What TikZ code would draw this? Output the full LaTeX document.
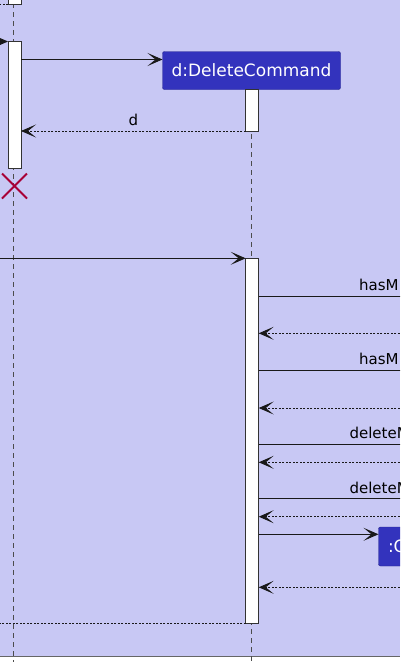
\documentclass[tikz,border=0pt]{standalone}
\usepackage{fontspec}
\setmainfont{DejaVu Sans}
\usepackage{tikz}
\usetikzlibrary{arrows.meta, positioning}

\definecolor{diagbg}{RGB}{200,200,244}
\definecolor{boxfill}{RGB}{51,51,189}
\definecolor{boxline}{RGB}{36,36,140}
\definecolor{destroyred}{RGB}{168,0,54}

\tikzset{
  lifeline/.style={draw=gray!60!black, line width=0.9pt, dash pattern=on 5pt off 4pt},
  activation/.style={draw=black!80, fill=white, line width=0.9pt, minimum width=13pt, inner sep=0, outer sep=0},
  participant/.style={fill=boxfill, draw=boxline, rounded corners=2pt, text=white,
    font=\fontsize{17}{20}\selectfont, inner sep=0, outer sep=0},
  msg/.style={draw=black!90, line width=0.9pt, -{Stealth[length=15pt, width=13pt, inset=8pt]}},
  reply/.style={msg, dash pattern=on 2pt off 1.5pt},
  replyline/.style={draw=black!90, line width=0.9pt, dash pattern=on 2pt off 1.5pt},
  msglabel/.style={font=\fontsize{15}{18}\selectfont, anchor=base west, inner sep=0},
  destroymark/.style={draw=destroyred, line width=2pt}
}

\begin{document}
\begin{tikzpicture}[x=1pt, y=-1pt]
  \useasboundingbox (0,0) rectangle (400,662);
  \clip (0,0) rectangle (400,662);
  \fill [diagbg] (0,0) rectangle (400,656.5);
  \draw [gray!80!black, line width=0.8pt] (0,656.5) -- (400,656.5);

  \coordinate (offleft) at (-60,0);
  \coordinate (offright) at (480,0);

  % lifelines
  \draw [lifeline] (13.5,-6) -- (13.5,662);
  \draw [lifeline] (251,89) -- (251,662);

  \node [participant, minimum width=178pt, minimum height=38pt] (dcmd) at (251.5,70.5) {d:DeleteCommand};
  \node [participant, anchor=west, minimum height=39pt, inner xsep=9.5pt] (cbox) at (378.5,546.5) {:C};

  \node [activation, anchor=south, minimum height=20pt] (act0) at (14.5,4) {};
  \node [activation, anchor=north, minimum height=127pt] (act1) at (14.5,41.5) {};
  \node [activation, anchor=north, minimum height=41.5pt] (act2) at (252.2,89.5) {};
  \node [activation, anchor=north, minimum height=365pt] (act3) at (252.2,258.3) {};

  \draw [replyline] (act0.south west) -- (offleft |- act0.south);
  \draw [msg] (offleft |- act1.north) -- (act1.north west);
  \draw [msg] (act1.east |- 0,59.5) -- (dcmd.west |- 0,59.5);
  \draw [reply] (act2.south west) -- (act1.east |- act2.south)
    node [pos=0.5, above=5pt, font=\fontsize{15}{18}\selectfont, inner sep=0] (dlabel) {d};

  % destroyed
  \draw [destroymark] (14.5,186) +(-12.5,-12.5) -- +(12.5,12.5) +(-12.5,12.5) -- +(12.5,-12.5);

  \draw [msg] (offleft |- act3.north) -- (act3.north west);

  \foreach \y/\x/\txt in {296/359/hasM, 370/359/hasM, 444.3/349.3/deleteM, 498.7/349.3/deleteM} {
    \draw [msg] (act3.east |- 0,\y) -- (offright |- 0,\y);
    \node [msglabel] at (\x,\y-5.5) {\txt};
  }
  \foreach \y in {333.3, 408, 462.3, 516.7, 587.3}
    \draw [reply] (offright |- 0,\y) -- (act3.east |- 0,\y);

  \draw [msg] (act3.east |- 0,534.3) -- (cbox.west |- 0,534.3);
  \draw [replyline] (act3.south west) -- (offleft |- act3.south);
\end{tikzpicture}
\end{document}
